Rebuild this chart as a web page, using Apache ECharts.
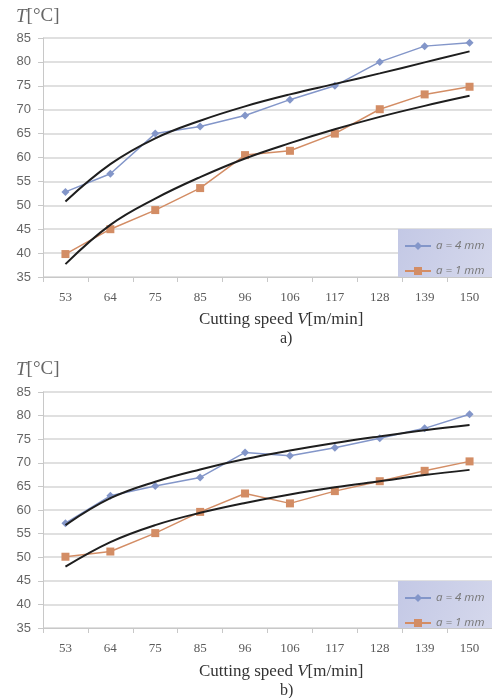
<!DOCTYPE html>
<html>
<head>
<meta charset="utf-8">
<script src="https://cdn.jsdelivr.net/npm/echarts@6.0.0/dist/echarts.min.js"></script>
<style>
  html, body { margin: 0; padding: 0; background: #fff; }
  #chart { width: 492px; height: 698px; }
</style>
</head>
<body>
<div id="chart"></div>
<script>
// cutting speed categories, m/min
const speeds = ['53', '64', '75', '85', '96', '106', '117', '128', '139', '150']

// a) measured temperatures and trend curves (read off the figure)
const tempA4a = [52.8, 56.6, 65.0, 66.5, 68.8, 72.1, 75.0, 80.0, 83.3, 84.0]
const tempA1a = [39.8, 45.0, 49.0, 53.6, 60.5, 61.4, 65.0, 70.1, 73.2, 74.8]
const trendA4a = [50.8, 58.6, 64.0, 67.7, 70.7, 73.2, 75.4, 77.6, 79.9, 82.2]
const trendA1a = [37.7, 45.9, 51.4, 55.9, 59.8, 63.0, 65.9, 68.5, 70.8, 72.9]

// b)
const tempA4b = [57.2, 63.0, 65.1, 66.9, 72.2, 71.5, 73.2, 75.2, 77.3, 80.3]
const tempA1b = [50.1, 51.2, 55.1, 59.6, 63.5, 61.4, 64.0, 66.1, 68.3, 70.3]
const trendA4b = [56.8, 62.5, 66.0, 68.6, 70.8, 72.6, 74.2, 75.6, 76.9, 78.0]
const trendA1b = [48.0, 53.2, 56.8, 59.4, 61.5, 63.3, 64.8, 66.1, 67.4, 68.5]

const yMin = 35
const yMax = 85
const yStep = 5

const nameA4 = 'a = 4 mm'
const nameA1 = 'a = 1 mm'

const blue = '#8396c9'
const orange = '#d38d65'
const grey = '#d6d6d6'

const chart = echarts.init(document.getElementById('chart'))

const grids = [
  { left: 43, top: 38, right: 0, height: 239 },
  { left: 43, top: 392, right: 0, height: 236 },
]

function xAxis(i) {
  return {
    type: 'category',
    gridIndex: i,
    data: speeds,
    boundaryGap: true,
    axisLine: { lineStyle: { color: '#c8c8c8', width: 1 } },
    axisTick: { show: true, length: 5, lineStyle: { color: '#c8c8c8' } },
    axisLabel: { color: '#5a5a5a', fontSize: 13, fontFamily: 'Liberation Serif', margin: 14 },
  }
}

function yAxis(i) {
  return {
    type: 'value',
    gridIndex: i,
    min: yMin,
    max: yMax,
    interval: yStep,
    axisLine: { show: true, lineStyle: { color: '#c8c8c8' } },
    axisTick: { show: true, length: 5, lineStyle: { color: '#c8c8c8' } },
    axisLabel: { color: '#666', fontSize: 13, fontFamily: 'Liberation Sans', margin: 12 },
    splitLine: { lineStyle: { color: grey, width: 1.5 } },
  }
}

function dataSeries(name, vals, i, color, symbol) {
  return {
    name,
    type: 'line',
    xAxisIndex: i,
    yAxisIndex: i,
    data: vals,
    symbol,
    symbolSize: 8,
    lineStyle: { color, width: 1.5 },
    itemStyle: { color },
    z: 3,
    animation: false,
  }
}

function trend(vals, i) {
  return {
    name: 'trend',
    type: 'line',
    xAxisIndex: i,
    yAxisIndex: i,
    data: vals,
    smooth: 0.4,
    showSymbol: false,
    symbol: 'none',
    lineStyle: { color: '#1e1e1e', width: 2 },
    z: 4,
    animation: false,
  }
}

function legend(top) {
  return {
    orient: 'vertical',
    left: 399,
    top,
    itemWidth: 26,
    itemHeight: 10,
    itemGap: 13,
    data: [nameA4, nameA1],
    textStyle: { color: '#777', fontSize: 11.5, fontStyle: 'italic', fontFamily: 'Open Sans' },
    selectedMode: false,
    z: 10,
  }
}

const boxFill = new echarts.graphic.LinearGradient(0, 0, 1, 1, [
  { offset: 0, color: '#c3c8e5' },
  { offset: 1, color: '#d5d8ec' },
])

function titleBlocks(yTop, yName, yCap, letter) {
  return [
    {
      left: 16,
      top: yTop,
      text: '{i|T}{n|[°C]}',
      textStyle: {
        fontWeight: 'normal',
        rich: {
          i: { fontFamily: 'Liberation Serif', fontStyle: 'italic', fontWeight: 'normal', fontSize: 19, color: '#666' },
          n: { fontFamily: 'Liberation Serif', fontWeight: 'normal', fontSize: 19, color: '#666' },
        },
      },
      padding: 0,
    },
    {
      left: 199,
      top: yName,
      text: '{n|Cutting speed }{i|V}{n|[m/min]}',
      textStyle: {
        fontWeight: 'normal',
        rich: {
          i: { fontFamily: 'Liberation Serif', fontStyle: 'italic', fontWeight: 'normal', fontSize: 17, color: '#333' },
          n: { fontFamily: 'Liberation Serif', fontWeight: 'normal', fontSize: 17, color: '#333' },
        },
      },
      padding: 0,
    },
    {
      left: 280,
      top: yCap,
      text: letter,
      textStyle: { fontFamily: 'Liberation Serif', fontWeight: 'normal', fontSize: 16, color: '#333' },
      padding: 0,
    },
  ]
}

chart.setOption({
  backgroundColor: '#fff',
  animation: false,
  title: [...titleBlocks(7, 311, 331, 'a)'), ...titleBlocks(360, 663, 683, 'b)')],
  grid: grids,
  xAxis: [xAxis(0), xAxis(1)],
  yAxis: [yAxis(0), yAxis(1)],
  legend: [legend(235), legend(587)],
  graphic: [
    { type: 'rect', shape: { x: 398, y: 229, width: 94, height: 48 }, style: { fill: boxFill }, z: 5 },
    { type: 'rect', shape: { x: 398, y: 581, width: 94, height: 47 }, style: { fill: boxFill }, z: 5 },
  ],
  series: [
    dataSeries(nameA4, tempA4a, 0, blue, 'diamond'),
    dataSeries(nameA1, tempA1a, 0, orange, 'rect'),
    trend(trendA4a, 0),
    trend(trendA1a, 0),
    dataSeries(nameA4, tempA4b, 1, blue, 'diamond'),
    dataSeries(nameA1, tempA1b, 1, orange, 'rect'),
    trend(trendA4b, 1),
    trend(trendA1b, 1),
  ],
})
</script>
</body>
</html>
